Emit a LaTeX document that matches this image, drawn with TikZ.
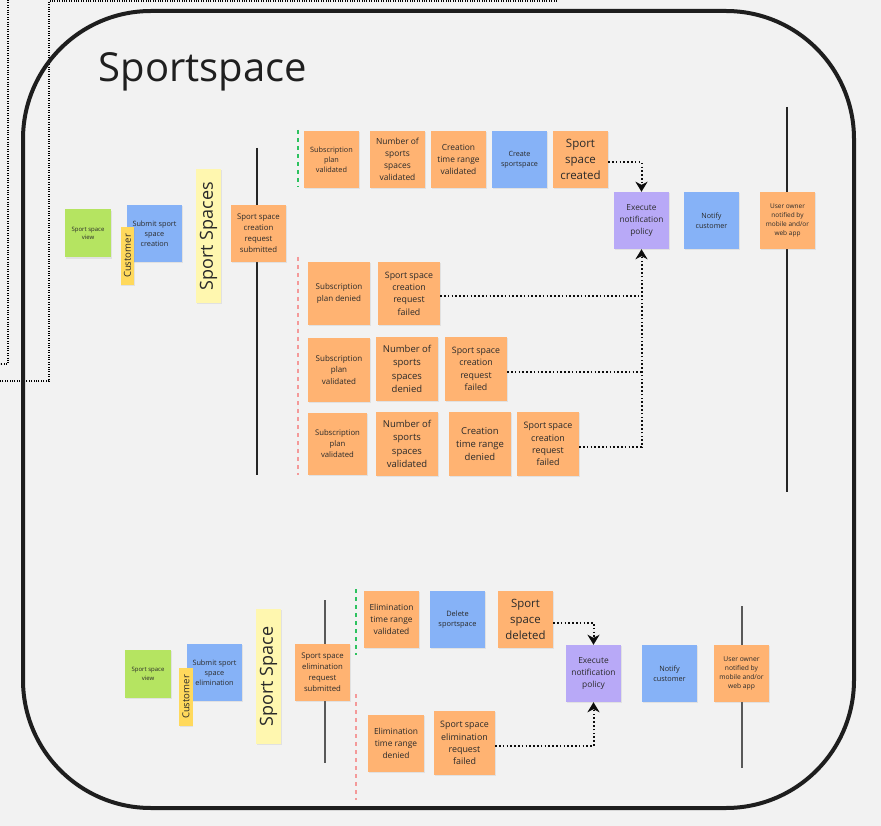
\documentclass[tikz,border=0pt]{standalone}
\usepackage{fontspec}
\setmainfont{Open Sans}
\usetikzlibrary{arrows.meta,shadows}
\definecolor{bgc}{HTML}{F2F2F2}
\definecolor{org}{HTML}{FFB372}
\definecolor{blu}{HTML}{86B2F7}
\definecolor{grn}{HTML}{B5E461}
\definecolor{ylw}{HTML}{FFD95C}
\definecolor{lyl}{HTML}{FFF7AF}
\definecolor{pur}{HTML}{B8A9F7}
\definecolor{txt}{HTML}{2A2A2A}
\definecolor{gdash}{HTML}{2DC25F}
\definecolor{rdash}{HTML}{F49A9A}
\definecolor{frame}{HTML}{1E1E1E}
\newcommand\myfs[2]{\fontsize{#1}{#2}\selectfont}
\begin{document}
\begin{tikzpicture}[x=1pt,y=-1pt,
  note/.style={inner sep=0pt, align=center, text=txt,
    drop shadow={shadow xshift=0.6pt,shadow yshift=-1.2pt,opacity=0.14}},
  sq/.style={note, minimum width=55pt, minimum height=57pt},
  wd/.style={note, minimum width=62pt, minimum height=64pt},
  vw/.style={note, fill=grn, minimum width=46pt, minimum height=48pt, font=\myfs{6}{8.3}},
  cust/.style={note, fill=ylw, rotate=90, minimum width=58pt, minimum height=13.5pt, font=\myfs{9.6}{11}},
  agg/.style={note, fill=lyl, rotate=90, minimum width=134pt, minimum height=25pt, font=\myfs{18}{20}},
  tline/.style={line width=1.5pt, draw=black!85},
  bline/.style={line width=1.5pt, draw=black!65},
  gd/.style={draw=gdash, line width=1.4pt, dash pattern=on 4pt off 4pt},
  rd/.style={draw=rdash, line width=1.4pt, dash pattern=on 4pt off 4pt},
  conn/.style={draw=black!95, line width=2pt, dash pattern=on 1.6pt off 2.2pt},
  arr/.style={conn, -{Stealth[length=10pt,width=12pt,inset=3pt]}},
  odot/.style={draw=black, line width=1.1pt, dash pattern=on 1.1pt off 1.3pt}
]
\useasboundingbox (0,0) rectangle (881,826);
\fill[bgc] (0,0) rectangle (881,826);

% outer dotted lines
\coordinate (o1a) at (8,0);
\coordinate (o1b) at (8,364);
\coordinate (o1c) at (0,364);
\coordinate (o2a) at (557,1);
\coordinate (o2b) at (49,1);
\coordinate (o2c) at (49,381);
\coordinate (o2d) at (0,381);
\draw[odot] (o1a) -- (o1b) -- (o1c);
\draw[odot] (o2a) -- (o2b) -- (o2c) -- (o2d);

% frame
\draw[frame, line width=4pt, rounded corners=128pt] (23,11) rectangle (854,808);

\node[anchor=base west, text=black!88, font=\myfs{40}{44}] (title) at (95,82) {Sportspace};

% ---------------- top section ----------------
\draw[tline] (257,148) -- (257,475);
\draw[tline] (787,107) -- (787,492);
\draw[gd] (298,130) -- (298,187);
\draw[rd] (298,257) -- (298,475);

\node[vw] (view1) at (88,233.5) {Sport space\\view};
\node[sq, fill=blu, font=\myfs{7.3}{10}] (submit1) at (154.5,233.5) {Submit sport\\space\\creation};
\node[cust] (cust1) at (127.5,256) {Customer};
\node[agg] (agg1) at (208.5,236) {Sport Spaces};
\node[sq, fill=org, font=\myfs{7.8}{11}] (req1) at (258.5,233.5) {Sport space\\creation\\request\\submitted};

\node[sq, fill=org, font=\myfs{7.3}{10}] (a1) at (331.5,159.5) {Subscription\\plan\\validated};
\node[sq, fill=org, font=\myfs{8.4}{12}] (a2) at (397.5,159.5) {Number of\\sports\\spaces\\validated};
\node[sq, fill=org, font=\myfs{8.4}{12}] (a3) at (458.5,159.5) {Creation\\time range\\validated};
\node[sq, fill=blu, font=\myfs{7.2}{10}] (a4) at (519.5,159.5) {Create\\sportspace};
\node[sq, fill=org, font=\myfs{11.5}{15.7}] (a5) at (580.5,159.5) {Sport\\space\\created};

\node[sq, fill=pur, font=\myfs{8.3}{12}] (exec1) at (641.5,220.5) {Execute\\notification\\policy};
\node[sq, fill=blu, font=\myfs{7.2}{10}] (notify1) at (711.5,220.5) {Notify\\customer};
\node[sq, fill=org, font=\myfs{6.5}{9}] (user1) at (787.5,220.5) {User owner\\notified by\\mobile and/or\\web app};

\node[wd, minimum height=63pt, fill=org, font=\myfs{8}{11.3}] (b1) at (339,293.5) {Subscription\\plan denied};
\node[wd, minimum height=63pt, fill=org, font=\myfs{8.8}{12.3}] (b2) at (409,293.5) {Sport space\\creation\\request\\failed};

\node[wd, fill=org, font=\myfs{8}{11.3}] (c1) at (339,370) {Subscription\\plan\\validated};
\node[wd, fill=org, font=\myfs{9.5}{13.3}] (c2) at (407,369) {Number of\\sports\\spaces\\denied};
\node[wd, fill=org, font=\myfs{8.8}{12.3}] (c3) at (476,369) {Sport space\\creation\\request\\failed};

\node[wd, minimum width=59pt, minimum height=62pt, fill=org, font=\myfs{7.7}{11}] (d1) at (337.5,444) {Subscription\\plan\\validated};
\node[wd, fill=org, font=\myfs{9.5}{13.3}] (d2) at (407,444) {Number of\\sports\\spaces\\validated};
\node[wd, fill=org, font=\myfs{9.5}{13.3}] (d3) at (480,444) {Creation\\time range\\denied};
\node[wd, fill=org, font=\myfs{8.9}{12.3}] (d4) at (548,444) {Sport space\\creation\\request\\failed};

\draw[arr] ([yshift=-2.5pt]a5.east) -| (exec1.north);
\draw[arr] ([yshift=-3pt]d4.east) -| (exec1.south);
\draw[conn] ([yshift=-3pt]b2.east) -- ([yshift=-3pt]b2.east -| exec1.south);
\draw[conn] ([yshift=-3pt]c3.east) -- ([yshift=-3pt]c3.east -| exec1.south);

% ---------------- bottom section ----------------
\draw[bline] (325,600) -- (325,763);
\draw[bline] (742,606) -- (742,768);
\draw[gd] (356,589) -- (356,655);
\draw[rd] (356,694) -- (356,800);

\node[vw] (view2) at (148,674) {Sport space\\view};
\node[sq, fill=blu, font=\myfs{7.3}{10}] (submit2) at (214.5,672.5) {Submit sport\\space\\elimination};
\node[cust] (cust2) at (186,697) {Customer};
\node[agg, minimum width=135pt] (agg2) at (268.5,676.5) {Sport Space};
\node[sq, fill=org, font=\myfs{7.75}{11}] (req2) at (322.5,672.5) {Sport space\\elimination\\request\\submitted};

\node[sq, fill=org, font=\myfs{8.4}{12}] (e1) at (391.5,619.5) {Elimination\\time range\\validated};
\node[sq, fill=blu, font=\myfs{7.4}{10}] (e2) at (457.5,619.5) {Delete\\sportspace};
\node[sq, fill=org, font=\myfs{11.4}{15.7}] (e3) at (525.5,619.5) {Sport\\space\\deleted};

\node[sq, fill=pur, font=\myfs{8.4}{12}] (exec2) at (593.5,673.5) {Execute\\notification\\policy};
\node[sq, fill=blu, font=\myfs{7.3}{10}] (notify2) at (669.5,673.5) {Notify\\customer};
\node[sq, fill=org, font=\myfs{6.7}{9}] (user2) at (741.5,673.5) {User owner\\notified by\\mobile and/or\\web app};

\node[sq, minimum width=56pt, fill=org, font=\myfs{8.4}{11.7}] (f1) at (396,743.5) {Elimination\\time range\\denied};
\node[wd, minimum width=61pt, fill=org, font=\myfs{8.9}{12.3}] (f2) at (464.5,743) {Sport space\\elimination\\request\\failed};

\draw[arr] ([yshift=-3pt]e3.east) -| (exec2.north);
\draw[arr] ([yshift=-3pt]f2.east) -| (exec2.south);
\end{tikzpicture}
\end{document}
